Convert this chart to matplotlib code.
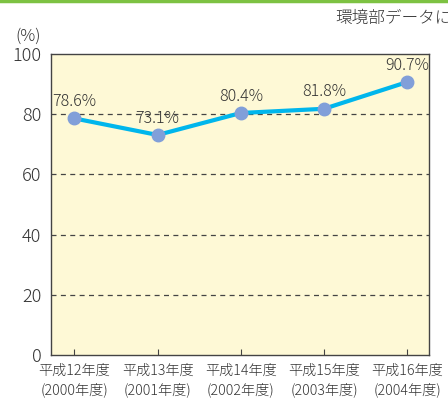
import matplotlib.pyplot as plt
from matplotlib.lines import Line2D

plt.rcParams['font.family'] = ['Noto Sans CJK JP', 'DejaVu Sans']

years = ['平成12年度\n(2000年度)', '平成13年度\n(2001年度)', '平成14年度\n(2002年度)',
         '平成15年度\n(2003年度)', '平成16年度\n(2004年度)']
values = [78.6, 73.1, 80.4, 81.8, 90.7]
yticks = [0, 20, 40, 60, 80, 100]

fig = plt.figure(figsize=(4.48, 4.05), dpi=100)
ax = fig.add_axes([51 / 448, 50 / 405, 378 / 448, 301 / 405])
ax.set_facecolor('#FEF9D6')

x = list(range(len(values)))
ax.plot(x, values, color='#00B6EC', lw=3, zorder=3)
ax.plot(x, values, 'o', color='#819FD9', ms=9, zorder=4)

for xi, v in zip(x, values):
    ax.text(xi, v + 2.8, f'{v}%', ha='center', va='bottom', fontsize=11.5,
            color='#333333', fontweight='light')

for g in yticks[1:-1]:
    ax.axhline(g, color='#444444', lw=0.9, ls=(0, (4, 3.5)), zorder=1)

ax.set_xlim(-0.28, 4.26)
ax.set_ylim(0, 100)
ax.set_yticks(yticks)
ax.set_xticks(x)
ax.set_xticklabels(years, fontsize=10.2, color='#333333', linespacing=1.4,
                   fontweight='light')
ax.tick_params(axis='y', length=0, labelsize=13, labelcolor='#333333', pad=7)
for lb in ax.get_yticklabels():
    lb.set_fontweight('light')
ax.tick_params(axis='x', direction='in', length=4, color='#444444', pad=6)
for s in ax.spines.values():
    s.set_color('#444444')
    s.set_linewidth(1.0)

fig.text(15 / 448, 1 - 36 / 405, '(%)', fontsize=12, color='#333333', va='center',
         fontweight='light')
fig.text(335 / 448, 1 - 18 / 405, '環境部データに', fontsize=12, color='#333333',
         va='center', fontweight='light')
fig.add_artist(Line2D([0, 1], [1 - 1 / 405, 1 - 1 / 405], color='#7DC242', lw=2.5,
                      transform=fig.transFigure))

fig.savefig('out.png', dpi=100)
